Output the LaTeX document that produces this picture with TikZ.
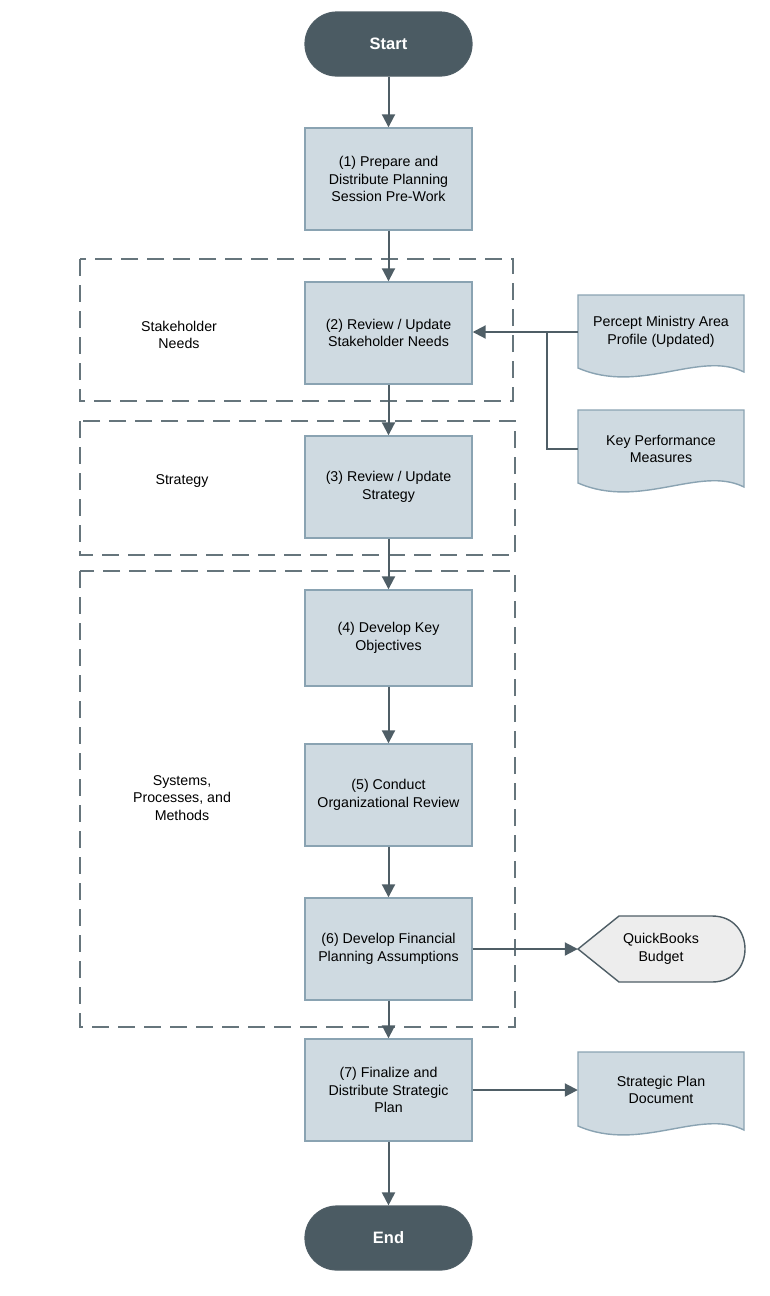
\documentclass[tikz,border=0pt]{standalone}
\usepackage{fontspec}
\setmainfont{Liberation Sans}
\usetikzlibrary{arrows.meta}
\definecolor{boxfill}{HTML}{CFDAE1}
\definecolor{boxline}{HTML}{8AA3B2}
\definecolor{dark}{HTML}{4B5B63}
\definecolor{arr}{HTML}{4F5E66}
\definecolor{dash}{HTML}{66757C}
\begin{document}
\begin{tikzpicture}[x=1pt,y=-1pt,
  font=\fontsize{14.2}{17.5}\selectfont,
  proc/.style={draw=boxline,line width=1.4pt,fill=boxfill,minimum width=167pt,minimum height=102pt,align=center,inner sep=0pt},
  term/.style={draw=arr,line width=1.2pt,fill=dark,rounded corners=32pt,minimum width=167pt,minimum height=64pt,text=white,font=\fontsize{16.5}{17}\selectfont\bfseries},
  ar/.style={draw=arr,line width=2pt,-{Triangle[length=13pt,width=13pt]}},
  ln/.style={draw=arr,line width=2pt},
  region/.style={draw=dash,line width=1.8pt,dash pattern=on 17pt off 9pt},
  doc/.style={draw=boxline,line width=1.4pt,fill=boxfill},
  lab/.style={align=center}]
\useasboundingbox (0,0) rectangle (770,1296);
\draw[region] (80,259) rectangle (513,401);
\draw[region] (80,421) rectangle (515,555);
\draw[region] (80,571) rectangle (515,1027);
\node[lab] (l1) at (179,335) {Stakeholder\\Needs};
\node[lab] (l2) at (182,481) {Strategy};
\node[lab] (l3) at (182,798) {Systems,\\Processes, and\\Methods};
\node[term] (s) at (388.5,44) {Start};
\node[proc] (b1) at (388.5,179) {(1) Prepare and\\Distribute Planning\\Session Pre-Work};
\node[proc] (b2) at (388.5,333) {(2) Review / Update\\Stakeholder Needs};
\node[proc] (b3) at (388.5,487) {(3) Review / Update\\Strategy};
\node[proc,minimum height=96pt] (b4) at (388.5,638) {(4) Develop Key\\Objectives};
\node[proc] (b5) at (388.5,795) {(5) Conduct\\Organizational Review};
\node[proc] (b6) at (388.5,949) {(6) Develop Financial\\Planning Assumptions};
\node[proc] (b7) at (388.5,1090) {(7) Finalize and\\Distribute Strategic\\Plan};
\node[term] (e) at (388.5,1238) {End};
% documents
\draw[doc] (578,295) -- (744,295) -- (744,372) .. controls (700,350) and (640,395) .. (578,368) -- cycle;
\node[lab,minimum width=166pt,minimum height=60pt] (d1) at (661,332) {Percept Ministry Area\\Profile (Updated)};
\draw[doc] (578,410) -- (744,410) -- (744,487) .. controls (700,465) and (640,510) .. (578,483) -- cycle;
\node[lab,minimum width=166pt,minimum height=60pt] (d2) at (661,449) {Key Performance\\Measures};
\draw[doc] (578,1052) -- (744,1052) -- (744,1130) .. controls (700,1108) and (640,1153) .. (578,1126) -- cycle;
\node[lab,minimum width=166pt,minimum height=60pt] (d3) at (661,1090) {Strategic Plan\\Document};
\draw[draw=arr,line width=1.4pt,fill=black!7] (578,949) -- (619,916) -- (712,916) .. controls (756,916) and (756,982) .. (712,982) -- (619,982) -- cycle;
\node[lab,minimum width=166pt,minimum height=60pt] (q) at (661,949) {QuickBooks\\Budget};
% connectors
\draw[ar] (s) -- (b1);
\draw[ar] (b1) -- (b2);
\draw[ar] (b2) -- (b3);
\draw[ar] (b3) -- (b4);
\draw[ar] (b4) -- (b5);
\draw[ar] (b5) -- (b6);
\draw[ar] (b6) -- (b7);
\draw[ar] (b7) -- (e);
\coordinate (j1) at (547,332);
\coordinate (j2) at (547,449);
\draw[ar] (d1.west) -- (b2.east|-d1.west);
\draw[ln] (j1) -- (j2) -- (d2.west);
\draw[ar] (b6) -- (q.west);
\draw[ar] (b7) -- (d3.west);
\end{tikzpicture}
\end{document}
